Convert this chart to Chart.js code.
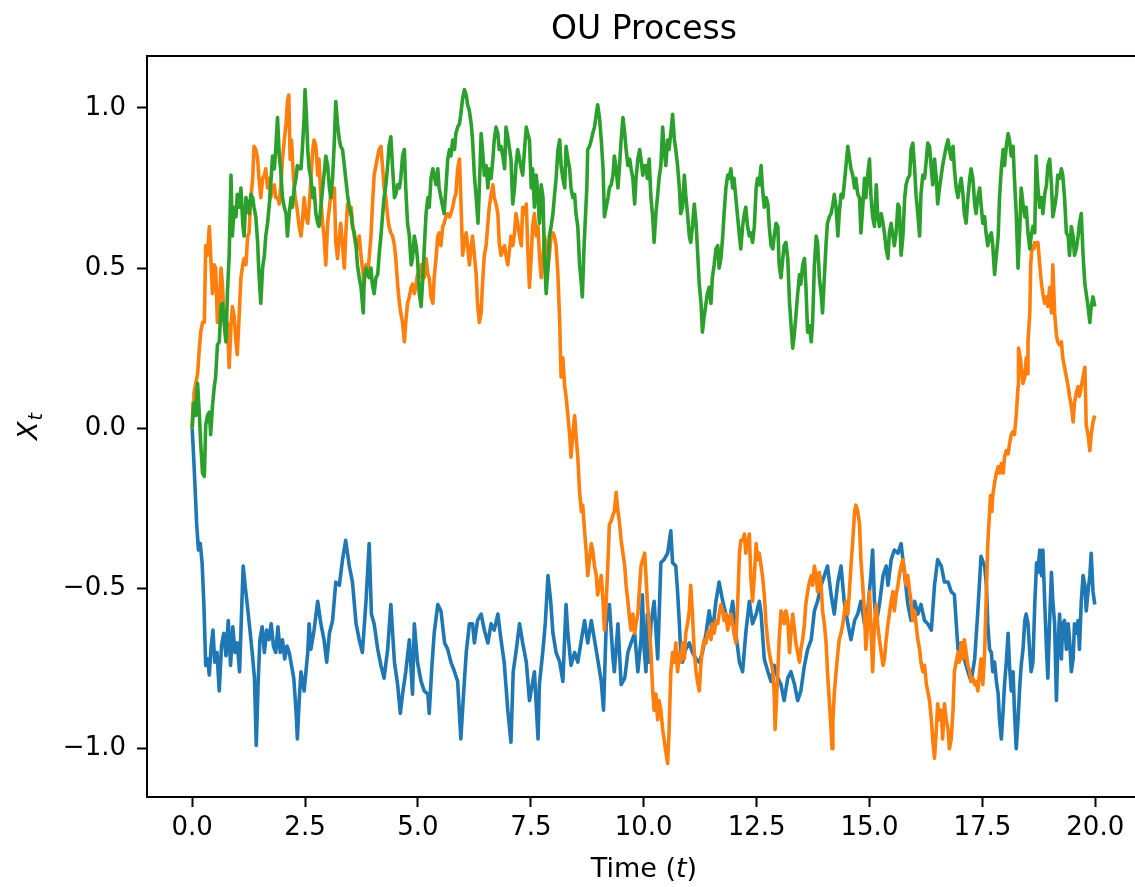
<!DOCTYPE html>
<html>
<head>
<meta charset="utf-8">
<title>OU Process</title>
<script src="https://cdn.jsdelivr.net/npm/chart.js"></script>
<style>
  html, body { margin: 0; padding: 0; overflow: hidden; background: #ffffff; }
  #wrap { width: 1135px; height: 887px; overflow: hidden; }
  canvas { display: block; }
</style>
</head>
<body>
<div id="wrap"><canvas id="chart" width="1135" height="887"></canvas></div>
<script>
// Three sample paths of an Ornstein-Uhlenbeck process: [time, X_t]
const blueSamples = [[0,0],[0.03,-0.08],[0.06,-0.17],[0.1,-0.30],[0.14,-0.38],[0.18,-0.36],[0.22,-0.42],[0.26,-0.55],[0.3,-0.74],[0.34,-0.72],[0.38,-0.77],[0.42,-0.68],[0.46,-0.63],[0.5,-0.73],[0.55,-0.70],[0.6,-0.82],[0.65,-0.68],[0.7,-0.64],[0.75,-0.71],[0.8,-0.60],[0.85,-0.74],[0.9,-0.62],[0.95,-0.70],[1.0,-0.67],[1.05,-0.76],[1.1,-0.55],[1.13,-0.43],[1.18,-0.50],[1.22,-0.55],[1.28,-0.63],[1.33,-0.70],[1.38,-0.78],[1.42,-0.99],[1.46,-0.80],[1.5,-0.66],[1.55,-0.62],[1.6,-0.70],[1.65,-0.63],[1.7,-0.66],[1.75,-0.61],[1.8,-0.68],[1.85,-0.70],[1.9,-0.62],[1.95,-0.70],[2.0,-0.66],[2.05,-0.72],[2.1,-0.68],[2.15,-0.70],[2.2,-0.74],[2.25,-0.78],[2.3,-0.88],[2.33,-0.97],[2.37,-0.85],[2.41,-0.76],[2.48,-0.82],[2.56,-0.70],[2.59,-0.61],[2.63,-0.69],[2.7,-0.63],[2.78,-0.54],[2.85,-0.61],[2.92,-0.66],[2.98,-0.73],[3.04,-0.64],[3.11,-0.60],[3.18,-0.48],[3.26,-0.49],[3.33,-0.41],[3.4,-0.35],[3.48,-0.43],[3.55,-0.48],[3.63,-0.61],[3.7,-0.66],[3.77,-0.70],[3.85,-0.54],[3.92,-0.36],[3.97,-0.58],[4.03,-0.61],[4.11,-0.69],[4.18,-0.74],[4.25,-0.78],[4.33,-0.69],[4.4,-0.55],[4.48,-0.73],[4.55,-0.80],[4.61,-0.89],[4.66,-0.83],[4.73,-0.76],[4.81,-0.66],[4.88,-0.83],[4.92,-0.61],[4.99,-0.73],[5.07,-0.79],[5.14,-0.82],[5.22,-0.83],[5.25,-0.89],[5.31,-0.74],[5.36,-0.64],[5.44,-0.55],[5.51,-0.57],[5.59,-0.67],[5.66,-0.69],[5.73,-0.73],[5.81,-0.76],[5.88,-0.79],[5.95,-0.97],[6.01,-0.83],[6.07,-0.70],[6.14,-0.61],[6.21,-0.61],[6.25,-0.67],[6.32,-0.60],[6.4,-0.58],[6.47,-0.63],[6.55,-0.67],[6.62,-0.61],[6.69,-0.63],[6.77,-0.58],[6.84,-0.66],[6.91,-0.73],[6.99,-0.88],[7.06,-0.98],[7.11,-0.76],[7.17,-0.70],[7.25,-0.61],[7.32,-0.67],[7.4,-0.73],[7.47,-0.85],[7.58,-0.76],[7.66,-0.97],[7.69,-0.80],[7.77,-0.69],[7.82,-0.61],[7.88,-0.46],[7.94,-0.54],[7.99,-0.64],[8.06,-0.70],[8.14,-0.73],[8.21,-0.79],[8.28,-0.55],[8.32,-0.64],[8.39,-0.74],[8.47,-0.70],[8.54,-0.73],[8.62,-0.66],[8.69,-0.60],[8.76,-0.67],[8.84,-0.60],[8.91,-0.66],[8.98,-0.72],[9.06,-0.79],[9.11,-0.88],[9.17,-0.61],[9.24,-0.55],[9.32,-0.72],[9.35,-0.76],[9.43,-0.61],[9.5,-0.80],[9.58,-0.78],[9.65,-0.70],[9.72,-0.67],[9.8,-0.64],[9.87,-0.76],[9.94,-0.66],[9.97,-0.52],[10.01,-0.69],[10.05,-0.76],[10.08,-0.58],[10.12,-0.73],[10.16,-0.61],[10.23,-0.54],[10.31,-0.72],[10.38,-0.42],[10.45,-0.41],[10.53,-0.39],[10.6,-0.32],[10.64,-0.42],[10.71,-0.43],[10.75,-0.51],[10.79,-0.61],[10.82,-0.70],[10.86,-0.73],[10.93,-0.69],[11.01,-0.67],[11.08,-0.70],[11.16,-0.72],[11.23,-0.73],[11.3,-0.70],[11.38,-0.64],[11.45,-0.57],[11.52,-0.64],[11.6,-0.54],[11.67,-0.48],[11.75,-0.54],[11.82,-0.58],[11.89,-0.61],[11.97,-0.54],[12.04,-0.64],[12.12,-0.73],[12.19,-0.76],[12.26,-0.64],[12.34,-0.54],[12.41,-0.61],[12.49,-0.58],[12.56,-0.54],[12.6,-0.58],[12.67,-0.72],[12.75,-0.76],[12.82,-0.79],[12.89,-0.74],[12.97,-0.78],[13.04,-0.80],[13.11,-0.85],[13.19,-0.78],[13.26,-0.76],[13.34,-0.80],[13.41,-0.85],[13.48,-0.82],[13.56,-0.74],[13.63,-0.69],[13.71,-0.66],[13.78,-0.57],[13.85,-0.54],[13.93,-0.49],[14.0,-0.46],[14.07,-0.43],[14.15,-0.52],[14.22,-0.58],[14.3,-0.48],[14.37,-0.43],[14.44,-0.54],[14.52,-0.61],[14.59,-0.66],[14.67,-0.60],[14.74,-0.58],[14.81,-0.54],[14.89,-0.61],[14.96,-0.57],[15.03,-0.46],[15.07,-0.38],[15.11,-0.54],[15.15,-0.61],[15.22,-0.55],[15.3,-0.46],[15.37,-0.43],[15.41,-0.49],[15.48,-0.41],[15.55,-0.38],[15.63,-0.39],[15.7,-0.36],[15.78,-0.46],[15.85,-0.55],[15.92,-0.60],[16.0,-0.54],[16.07,-0.58],[16.14,-0.55],[16.22,-0.60],[16.29,-0.61],[16.37,-0.63],[16.44,-0.49],[16.51,-0.41],[16.59,-0.43],[16.66,-0.48],[16.74,-0.48],[16.81,-0.51],[16.88,-0.52],[16.96,-0.69],[17.03,-0.67],[17.1,-0.72],[17.18,-0.76],[17.25,-0.79],[17.33,-0.72],[17.4,-0.57],[17.47,-0.40],[17.55,-0.43],[17.59,-0.49],[17.62,-0.61],[17.66,-0.69],[17.7,-0.70],[17.73,-0.76],[17.77,-0.73],[17.81,-0.79],[17.85,-0.83],[17.88,-0.91],[17.92,-0.97],[17.96,-0.88],[17.99,-0.80],[18.03,-0.73],[18.07,-0.64],[18.1,-0.74],[18.14,-0.82],[18.18,-0.76],[18.21,-0.88],[18.25,-1.0],[18.29,-0.91],[18.33,-0.80],[18.36,-0.74],[18.4,-0.69],[18.44,-0.60],[18.47,-0.58],[18.51,-0.61],[18.55,-0.70],[18.58,-0.76],[18.62,-0.73],[18.66,-0.55],[18.7,-0.42],[18.73,-0.45],[18.77,-0.38],[18.81,-0.46],[18.84,-0.38],[18.88,-0.54],[18.92,-0.69],[18.95,-0.78],[18.99,-0.60],[19.03,-0.45],[19.06,-0.54],[19.1,-0.61],[19.14,-0.85],[19.17,-0.69],[19.21,-0.58],[19.25,-0.72],[19.28,-0.61],[19.32,-0.60],[19.36,-0.69],[19.4,-0.61],[19.43,-0.66],[19.47,-0.76],[19.51,-0.72],[19.54,-0.61],[19.58,-0.64],[19.62,-0.60],[19.65,-0.69],[19.69,-0.54],[19.73,-0.46],[19.77,-0.49],[19.8,-0.57],[19.84,-0.51],[19.88,-0.46],[19.91,-0.39],[19.95,-0.51],[19.99,-0.55]];

const orangeSamples = [[0,0],[0.02,0.08],[0.04,0.11],[0.08,0.14],[0.12,0.17],[0.16,0.25],[0.19,0.30],[0.23,0.33],[0.27,0.33],[0.30,0.57],[0.34,0.54],[0.38,0.63],[0.41,0.54],[0.45,0.42],[0.49,0.51],[0.52,0.50],[0.56,0.33],[0.60,0.39],[0.64,0.50],[0.67,0.45],[0.71,0.33],[0.75,0.27],[0.78,0.33],[0.82,0.19],[0.86,0.32],[0.89,0.38],[0.93,0.35],[0.97,0.27],[1.00,0.23],[1.04,0.35],[1.08,0.47],[1.12,0.51],[1.15,0.53],[1.19,0.51],[1.23,0.60],[1.26,0.61],[1.30,0.72],[1.34,0.78],[1.37,0.88],[1.41,0.87],[1.45,0.84],[1.48,0.78],[1.52,0.72],[1.56,0.78],[1.60,0.79],[1.63,0.81],[1.67,0.75],[1.71,0.78],[1.74,0.72],[1.78,0.75],[1.82,0.76],[1.85,0.72],[1.89,0.72],[1.93,0.70],[1.96,0.75],[2.00,0.84],[2.04,0.90],[2.08,0.95],[2.11,1.02],[2.14,1.04],[2.17,0.84],[2.20,0.90],[2.24,0.79],[2.28,0.72],[2.32,0.69],[2.37,0.63],[2.41,0.60],[2.44,0.64],[2.48,0.72],[2.52,0.66],[2.56,0.64],[2.59,0.69],[2.63,0.78],[2.67,0.87],[2.70,0.90],[2.74,0.88],[2.78,0.79],[2.81,0.84],[2.85,0.72],[2.89,0.64],[2.92,0.60],[2.96,0.51],[3.00,0.64],[3.04,0.69],[3.07,0.73],[3.11,0.72],[3.15,0.75],[3.18,0.58],[3.22,0.53],[3.26,0.60],[3.29,0.64],[3.33,0.57],[3.37,0.50],[3.40,0.60],[3.44,0.70],[3.48,0.67],[3.52,0.69],[3.55,0.64],[3.59,0.60],[3.63,0.57],[3.66,0.56],[3.70,0.60],[3.74,0.54],[3.77,0.50],[3.81,0.45],[3.85,0.51],[3.88,0.48],[3.92,0.53],[3.96,0.60],[3.99,0.69],[4.03,0.79],[4.07,0.82],[4.11,0.85],[4.14,0.87],[4.18,0.88],[4.22,0.81],[4.25,0.75],[4.29,0.72],[4.33,0.66],[4.36,0.63],[4.40,0.61],[4.44,0.60],[4.48,0.57],[4.51,0.53],[4.55,0.45],[4.59,0.39],[4.62,0.36],[4.66,0.33],[4.70,0.27],[4.73,0.33],[4.77,0.39],[4.81,0.41],[4.85,0.44],[4.88,0.45],[4.92,0.42],[4.96,0.45],[4.99,0.48],[5.03,0.47],[5.07,0.51],[5.10,0.50],[5.14,0.47],[5.18,0.53],[5.22,0.48],[5.25,0.47],[5.29,0.41],[5.33,0.39],[5.36,0.47],[5.40,0.53],[5.44,0.60],[5.47,0.61],[5.51,0.57],[5.55,0.63],[5.58,0.64],[5.62,0.66],[5.66,0.67],[5.70,0.66],[5.73,0.67],[5.77,0.69],[5.81,0.72],[5.84,0.73],[5.88,0.81],[5.92,0.84],[5.95,0.72],[5.99,0.54],[6.03,0.58],[6.07,0.61],[6.10,0.57],[6.14,0.51],[6.18,0.57],[6.21,0.60],[6.25,0.54],[6.29,0.48],[6.32,0.39],[6.36,0.33],[6.40,0.36],[6.43,0.45],[6.47,0.54],[6.51,0.57],[6.55,0.64],[6.58,0.69],[6.62,0.73],[6.66,0.76],[6.69,0.72],[6.73,0.70],[6.77,0.67],[6.80,0.58],[6.84,0.54],[6.88,0.56],[6.92,0.57],[6.95,0.54],[6.99,0.51],[7.03,0.56],[7.06,0.60],[7.10,0.57],[7.14,0.61],[7.17,0.67],[7.21,0.64],[7.25,0.60],[7.29,0.57],[7.32,0.69],[7.36,0.67],[7.40,0.70],[7.43,0.57],[7.47,0.44],[7.51,0.54],[7.54,0.63],[7.58,0.67],[7.62,0.60],[7.66,0.63],[7.69,0.54],[7.73,0.47],[7.77,0.54],[7.80,0.60],[7.84,0.57],[7.88,0.50],[7.91,0.54],[7.95,0.60],[7.99,0.61],[8.02,0.60],[8.06,0.57],[8.10,0.48],[8.14,0.33],[8.17,0.16],[8.21,0.22],[8.25,0.13],[8.28,0.10],[8.32,0.04],[8.36,-0.02],[8.39,-0.09],[8.43,-0.02],[8.47,0.04],[8.50,-0.02],[8.54,-0.09],[8.58,-0.20],[8.62,-0.26],[8.65,-0.24],[8.69,-0.32],[8.73,-0.39],[8.76,-0.46],[8.80,-0.41],[8.84,-0.36],[8.87,-0.38],[8.91,-0.43],[8.95,-0.46],[8.98,-0.52],[9.02,-0.49],[9.06,-0.46],[9.10,-0.54],[9.13,-0.63],[9.17,-0.54],[9.21,-0.41],[9.24,-0.30],[9.28,-0.29],[9.32,-0.27],[9.35,-0.26],[9.39,-0.20],[9.43,-0.26],[9.46,-0.29],[9.50,-0.35],[9.54,-0.39],[9.58,-0.43],[9.61,-0.49],[9.65,-0.54],[9.69,-0.60],[9.72,-0.63],[9.76,-0.58],[9.80,-0.64],[9.83,-0.61],[9.87,-0.58],[9.91,-0.49],[9.94,-0.43],[9.98,-0.41],[10.02,-0.39],[10.05,-0.46],[10.08,-0.54],[10.12,-0.61],[10.16,-0.70],[10.20,-0.82],[10.23,-0.88],[10.27,-0.83],[10.31,-0.91],[10.34,-0.85],[10.38,-0.88],[10.42,-0.94],[10.45,-0.97],[10.49,-1.01],[10.53,-1.046],[10.56,-0.95],[10.60,-0.76],[10.64,-0.70],[10.68,-0.73],[10.71,-0.67],[10.75,-0.76],[10.79,-0.70],[10.82,-0.73],[10.86,-0.67],[10.90,-0.72],[10.93,-0.64],[10.97,-0.61],[11.01,-0.57],[11.04,-0.49],[11.08,-0.58],[11.12,-0.70],[11.16,-0.76],[11.19,-0.79],[11.23,-0.82],[11.27,-0.73],[11.30,-0.69],[11.34,-0.66],[11.38,-0.67],[11.41,-0.64],[11.45,-0.63],[11.49,-0.66],[11.52,-0.61],[11.56,-0.64],[11.60,-0.60],[11.64,-0.61],[11.67,-0.58],[11.71,-0.55],[11.75,-0.57],[11.78,-0.60],[11.82,-0.58],[11.86,-0.63],[11.89,-0.61],[11.93,-0.58],[11.97,-0.61],[12.00,-0.64],[12.04,-0.67],[12.08,-0.55],[12.12,-0.39],[12.15,-0.35],[12.19,-0.35],[12.23,-0.33],[12.26,-0.39],[12.30,-0.36],[12.34,-0.33],[12.37,-0.46],[12.41,-0.54],[12.45,-0.46],[12.49,-0.36],[12.52,-0.41],[12.56,-0.39],[12.60,-0.43],[12.63,-0.46],[12.67,-0.52],[12.71,-0.61],[12.75,-0.67],[12.78,-0.70],[12.82,-0.73],[12.86,-0.76],[12.89,-0.83],[12.91,-0.94],[12.93,-0.88],[12.97,-0.76],[13.00,-0.66],[13.04,-0.57],[13.08,-0.58],[13.11,-0.61],[13.15,-0.57],[13.19,-0.60],[13.23,-0.70],[13.26,-0.64],[13.30,-0.58],[13.34,-0.63],[13.37,-0.67],[13.41,-0.70],[13.45,-0.73],[13.48,-0.69],[13.52,-0.66],[13.56,-0.61],[13.59,-0.55],[13.63,-0.51],[13.67,-0.48],[13.71,-0.46],[13.74,-0.49],[13.78,-0.43],[13.82,-0.46],[13.85,-0.51],[13.89,-0.45],[13.93,-0.49],[13.96,-0.57],[14.00,-0.61],[14.04,-0.67],[14.07,-0.76],[14.11,-0.85],[14.15,-0.94],[14.17,-1.00],[14.19,-0.91],[14.22,-0.83],[14.26,-0.76],[14.30,-0.70],[14.33,-0.66],[14.37,-0.64],[14.41,-0.61],[14.44,-0.58],[14.48,-0.54],[14.52,-0.58],[14.55,-0.52],[14.59,-0.43],[14.63,-0.35],[14.67,-0.26],[14.70,-0.24],[14.74,-0.26],[14.78,-0.30],[14.81,-0.41],[14.85,-0.49],[14.89,-0.58],[14.92,-0.69],[14.96,-0.61],[15.00,-0.51],[15.04,-0.65],[15.07,-0.76],[15.11,-0.61],[15.15,-0.55],[15.18,-0.61],[15.22,-0.66],[15.26,-0.70],[15.30,-0.74],[15.33,-0.72],[15.37,-0.66],[15.41,-0.61],[15.44,-0.58],[15.48,-0.54],[15.52,-0.51],[15.55,-0.57],[15.59,-0.52],[15.63,-0.49],[15.66,-0.46],[15.70,-0.43],[15.74,-0.41],[15.78,-0.45],[15.81,-0.49],[15.85,-0.46],[15.89,-0.51],[15.92,-0.54],[15.96,-0.60],[16.00,-0.57],[16.03,-0.61],[16.07,-0.66],[16.11,-0.69],[16.14,-0.73],[16.18,-0.76],[16.22,-0.74],[16.26,-0.80],[16.29,-0.82],[16.33,-0.85],[16.37,-0.91],[16.40,-0.97],[16.44,-1.03],[16.48,-0.94],[16.51,-0.86],[16.55,-0.91],[16.59,-0.88],[16.62,-0.97],[16.66,-0.86],[16.70,-0.91],[16.74,-0.94],[16.77,-1.00],[16.81,-0.97],[16.85,-0.88],[16.88,-0.76],[16.92,-0.73],[16.96,-0.70],[16.99,-0.73],[17.03,-0.67],[17.07,-0.72],[17.10,-0.66],[17.14,-0.70],[17.18,-0.74],[17.22,-0.76],[17.25,-0.79],[17.29,-0.78],[17.33,-0.80],[17.36,-0.79],[17.40,-0.82],[17.44,-0.76],[17.47,-0.72],[17.51,-0.80],[17.55,-0.70],[17.59,-0.50],[17.62,-0.36],[17.66,-0.26],[17.68,-0.21],[17.71,-0.26],[17.73,-0.21],[17.77,-0.17],[17.81,-0.14],[17.85,-0.12],[17.88,-0.14],[17.92,-0.11],[17.96,-0.14],[17.99,-0.09],[18.03,-0.07],[18.07,-0.08],[18.10,-0.05],[18.14,-0.02],[18.18,-0.01],[18.21,-0.02],[18.25,0.04],[18.29,0.13],[18.30,0.25],[18.34,0.22],[18.36,0.19],[18.40,0.14],[18.44,0.16],[18.47,0.22],[18.50,0.17],[18.51,0.27],[18.55,0.36],[18.57,0.51],[18.60,0.57],[18.64,0.56],[18.66,0.58],[18.69,0.57],[18.73,0.58],[18.77,0.51],[18.81,0.45],[18.84,0.42],[18.88,0.39],[18.92,0.41],[18.95,0.38],[18.99,0.44],[19.03,0.36],[19.06,0.51],[19.10,0.36],[19.14,0.29],[19.17,0.27],[19.21,0.26],[19.25,0.27],[19.28,0.22],[19.32,0.19],[19.36,0.16],[19.40,0.13],[19.43,0.10],[19.47,0.07],[19.51,0.02],[19.54,0.08],[19.58,0.11],[19.62,0.13],[19.65,0.10],[19.69,0.13],[19.73,0.16],[19.77,0.19],[19.80,0.01],[19.84,-0.02],[19.88,-0.07],[19.91,-0.02],[19.95,0.02],[19.99,0.04]];

const greenSamples = [[0,0],[0.03,0.07],[0.05,0.08],[0.08,0.04],[0.10,0.10],[0.12,0.14],[0.16,0.04],[0.19,-0.05],[0.23,-0.14],[0.27,-0.15],[0.30,0.01],[0.34,0.04],[0.38,0.05],[0.41,-0.02],[0.45,0.07],[0.49,0.13],[0.52,0.16],[0.56,0.26],[0.60,0.27],[0.64,0.38],[0.67,0.39],[0.71,0.33],[0.75,0.27],[0.78,0.42],[0.82,0.54],[0.86,0.79],[0.89,0.60],[0.93,0.69],[0.97,0.66],[1.00,0.73],[1.04,0.69],[1.08,0.75],[1.12,0.64],[1.15,0.60],[1.19,0.72],[1.23,0.70],[1.26,0.67],[1.30,0.73],[1.34,0.72],[1.37,0.69],[1.41,0.66],[1.45,0.58],[1.48,0.48],[1.52,0.39],[1.56,0.50],[1.60,0.54],[1.63,0.60],[1.67,0.64],[1.71,0.70],[1.74,0.76],[1.78,0.85],[1.82,0.81],[1.85,0.87],[1.89,0.97],[1.93,0.85],[1.96,0.81],[2.00,0.72],[2.04,0.69],[2.08,0.67],[2.11,0.60],[2.15,0.67],[2.19,0.72],[2.22,0.69],[2.26,0.75],[2.30,0.78],[2.33,0.82],[2.37,0.81],[2.41,0.81],[2.44,0.87],[2.48,0.97],[2.50,1.057],[2.53,0.98],[2.56,0.87],[2.59,0.81],[2.63,0.78],[2.67,0.72],[2.70,0.75],[2.74,0.67],[2.78,0.64],[2.81,0.63],[2.85,0.69],[2.89,0.75],[2.92,0.79],[2.96,0.85],[3.00,0.82],[3.04,0.75],[3.07,0.72],[3.11,0.78],[3.15,0.90],[3.18,1.02],[3.22,0.95],[3.26,0.90],[3.29,0.88],[3.33,0.87],[3.37,0.82],[3.40,0.78],[3.44,0.73],[3.48,0.69],[3.52,0.67],[3.55,0.63],[3.59,0.61],[3.63,0.57],[3.66,0.51],[3.70,0.47],[3.74,0.44],[3.77,0.39],[3.79,0.36],[3.81,0.47],[3.85,0.50],[3.88,0.48],[3.92,0.47],[3.96,0.50],[3.99,0.45],[4.03,0.42],[4.07,0.47],[4.11,0.48],[4.14,0.54],[4.18,0.60],[4.22,0.67],[4.25,0.72],[4.29,0.76],[4.33,0.82],[4.36,0.88],[4.40,0.91],[4.44,0.81],[4.48,0.72],[4.51,0.73],[4.55,0.76],[4.59,0.75],[4.62,0.78],[4.66,0.85],[4.70,0.87],[4.73,0.75],[4.77,0.64],[4.81,0.60],[4.85,0.51],[4.88,0.53],[4.92,0.60],[4.96,0.57],[4.99,0.53],[5.03,0.42],[5.07,0.38],[5.10,0.45],[5.14,0.56],[5.18,0.67],[5.22,0.72],[5.25,0.69],[5.29,0.78],[5.33,0.81],[5.36,0.79],[5.40,0.76],[5.44,0.81],[5.47,0.75],[5.51,0.72],[5.55,0.69],[5.58,0.67],[5.62,0.75],[5.66,0.84],[5.70,0.87],[5.73,0.85],[5.77,0.90],[5.81,0.87],[5.84,0.92],[5.88,0.94],[5.92,0.95],[5.95,0.98],[5.99,1.03],[6.03,1.057],[6.07,1.04],[6.10,1.01],[6.14,0.99],[6.18,0.95],[6.21,0.90],[6.25,0.79],[6.29,0.72],[6.33,0.64],[6.36,0.75],[6.40,0.92],[6.43,0.87],[6.47,0.79],[6.51,0.82],[6.55,0.75],[6.58,0.81],[6.62,0.78],[6.66,0.84],[6.69,0.90],[6.73,0.94],[6.77,0.92],[6.80,0.87],[6.84,0.88],[6.88,0.85],[6.92,0.81],[6.95,0.94],[6.99,0.91],[7.03,0.87],[7.06,0.84],[7.10,0.70],[7.14,0.75],[7.17,0.82],[7.21,0.87],[7.25,0.84],[7.29,0.81],[7.32,0.79],[7.36,0.87],[7.40,0.94],[7.43,0.92],[7.47,0.90],[7.51,0.75],[7.54,0.81],[7.58,0.69],[7.62,0.79],[7.66,0.72],[7.69,0.64],[7.73,0.76],[7.77,0.72],[7.80,0.54],[7.84,0.42],[7.88,0.50],[7.91,0.60],[7.95,0.63],[7.99,0.67],[8.02,0.72],[8.06,0.78],[8.10,0.87],[8.14,0.90],[8.17,0.82],[8.21,0.78],[8.25,0.75],[8.28,0.88],[8.32,0.84],[8.36,0.81],[8.39,0.75],[8.43,0.72],[8.47,0.73],[8.50,0.67],[8.54,0.63],[8.58,0.51],[8.62,0.45],[8.64,0.41],[8.68,0.57],[8.71,0.66],[8.74,0.75],[8.76,0.87],[8.80,0.88],[8.84,0.90],[8.87,0.92],[8.91,0.94],[8.95,0.98],[8.98,1.01],[9.02,0.97],[9.06,0.90],[9.10,0.81],[9.13,0.66],[9.17,0.69],[9.21,0.72],[9.24,0.75],[9.28,0.76],[9.32,0.79],[9.35,0.85],[9.39,0.81],[9.43,0.75],[9.46,0.81],[9.50,0.90],[9.54,0.97],[9.58,0.92],[9.61,0.87],[9.65,0.82],[9.69,0.84],[9.72,0.81],[9.76,0.78],[9.80,0.70],[9.83,0.78],[9.87,0.84],[9.91,0.87],[9.94,0.84],[9.98,0.79],[10.02,0.82],[10.05,0.82],[10.08,0.78],[10.12,0.84],[10.16,0.72],[10.20,0.66],[10.23,0.58],[10.27,0.67],[10.31,0.73],[10.34,0.78],[10.38,0.82],[10.42,0.94],[10.45,0.87],[10.49,0.82],[10.53,0.90],[10.56,0.87],[10.60,0.92],[10.64,0.98],[10.68,0.90],[10.71,0.87],[10.75,0.82],[10.79,0.75],[10.82,0.67],[10.86,0.69],[10.90,0.79],[10.93,0.73],[10.97,0.67],[11.01,0.60],[11.04,0.58],[11.08,0.63],[11.12,0.70],[11.16,0.64],[11.19,0.56],[11.23,0.45],[11.27,0.39],[11.30,0.30],[11.34,0.35],[11.38,0.39],[11.41,0.42],[11.45,0.44],[11.49,0.39],[11.52,0.47],[11.56,0.51],[11.60,0.56],[11.64,0.57],[11.67,0.50],[11.71,0.53],[11.75,0.60],[11.78,0.67],[11.82,0.75],[11.86,0.79],[11.89,0.78],[11.93,0.81],[11.97,0.75],[12.00,0.78],[12.04,0.72],[12.08,0.66],[12.12,0.60],[12.15,0.56],[12.19,0.63],[12.23,0.67],[12.26,0.69],[12.30,0.63],[12.34,0.60],[12.37,0.61],[12.41,0.58],[12.45,0.63],[12.49,0.75],[12.52,0.78],[12.56,0.76],[12.60,0.82],[12.63,0.75],[12.67,0.69],[12.71,0.72],[12.75,0.70],[12.78,0.63],[12.82,0.57],[12.86,0.56],[12.89,0.60],[12.93,0.64],[12.97,0.63],[13.00,0.51],[13.04,0.47],[13.08,0.53],[13.11,0.57],[13.15,0.58],[13.19,0.53],[13.23,0.39],[13.26,0.33],[13.30,0.25],[13.34,0.30],[13.37,0.35],[13.41,0.42],[13.45,0.48],[13.48,0.45],[13.52,0.51],[13.56,0.53],[13.59,0.45],[13.63,0.30],[13.67,0.32],[13.71,0.27],[13.74,0.33],[13.78,0.51],[13.82,0.60],[13.85,0.58],[13.89,0.47],[13.93,0.42],[13.96,0.36],[14.00,0.47],[14.04,0.58],[14.07,0.64],[14.11,0.66],[14.15,0.67],[14.19,0.70],[14.22,0.73],[14.26,0.69],[14.30,0.60],[14.33,0.67],[14.37,0.73],[14.41,0.72],[14.44,0.76],[14.48,0.82],[14.52,0.88],[14.55,0.85],[14.59,0.81],[14.63,0.79],[14.67,0.75],[14.70,0.78],[14.74,0.73],[14.78,0.72],[14.81,0.61],[14.85,0.69],[14.89,0.78],[14.92,0.72],[14.96,0.79],[15.00,0.84],[15.03,0.73],[15.07,0.66],[15.11,0.63],[15.15,0.76],[15.18,0.67],[15.22,0.63],[15.26,0.67],[15.30,0.64],[15.33,0.61],[15.37,0.56],[15.41,0.53],[15.44,0.61],[15.48,0.64],[15.52,0.60],[15.55,0.57],[15.59,0.61],[15.63,0.70],[15.66,0.69],[15.70,0.54],[15.74,0.60],[15.78,0.72],[15.81,0.76],[15.85,0.78],[15.89,0.79],[15.92,0.87],[15.96,0.89],[16.00,0.81],[16.03,0.73],[16.07,0.67],[16.11,0.60],[16.14,0.73],[16.18,0.79],[16.22,0.78],[16.26,0.84],[16.29,0.89],[16.33,0.88],[16.37,0.81],[16.40,0.76],[16.44,0.84],[16.48,0.78],[16.51,0.70],[16.55,0.75],[16.59,0.79],[16.62,0.82],[16.66,0.85],[16.70,0.88],[16.74,0.90],[16.77,0.87],[16.81,0.84],[16.85,0.88],[16.88,0.81],[16.92,0.75],[16.96,0.72],[16.99,0.75],[17.03,0.78],[17.07,0.73],[17.10,0.67],[17.14,0.64],[17.18,0.72],[17.22,0.78],[17.25,0.81],[17.29,0.78],[17.33,0.70],[17.36,0.67],[17.40,0.72],[17.44,0.75],[17.47,0.70],[17.51,0.64],[17.55,0.66],[17.58,0.61],[17.62,0.57],[17.66,0.60],[17.70,0.61],[17.73,0.57],[17.77,0.48],[17.81,0.54],[17.85,0.60],[17.88,0.72],[17.92,0.81],[17.96,0.87],[17.99,0.82],[18.03,0.88],[18.07,0.92],[18.10,0.90],[18.14,0.85],[18.18,0.88],[18.21,0.78],[18.25,0.67],[18.29,0.50],[18.33,0.63],[18.36,0.75],[18.40,0.70],[18.44,0.66],[18.47,0.69],[18.51,0.61],[18.55,0.56],[18.58,0.60],[18.62,0.63],[18.66,0.61],[18.69,0.85],[18.73,0.75],[18.77,0.69],[18.81,0.72],[18.84,0.67],[18.88,0.73],[18.92,0.76],[18.95,0.82],[18.99,0.84],[19.03,0.76],[19.06,0.66],[19.10,0.69],[19.14,0.73],[19.17,0.79],[19.21,0.78],[19.25,0.81],[19.28,0.79],[19.32,0.72],[19.36,0.61],[19.40,0.60],[19.43,0.54],[19.47,0.63],[19.51,0.60],[19.54,0.54],[19.58,0.56],[19.62,0.60],[19.65,0.64],[19.69,0.67],[19.73,0.54],[19.77,0.45],[19.80,0.42],[19.84,0.38],[19.88,0.33],[19.91,0.38],[19.95,0.41],[19.99,0.38]];

// Tick positions on each axis
const timeTicks = [0, 2.5, 5, 7.5, 10, 12.5, 15, 17.5, 20];
const valueTicks = [-1, -0.5, 0, 0.5, 1];

const FONT = "'DejaVu Sans', sans-serif";
const toPoints = s => s.map(p => ({ x: p[0], y: p[1] }));
const fmt = v => v.toFixed(1).replace('-', '\u2212');

// Left, top and bottom spines, plus title and axis labels.
// The plotting area runs to the canvas edge, so there is no right spine.
const decorations = {
  id: 'decorations',
  afterDraw(chart) {
    const { ctx, chartArea: a } = chart;
    const W = chart.width;
    ctx.save();
    // keep the strip along the right edge of the plotting area clean
    ctx.fillStyle = '#ffffff';
    ctx.fillRect(W - 10, a.top + 1.5, 10, a.bottom - a.top - 3);

    ctx.strokeStyle = '#000';
    ctx.lineWidth = 2;
    ctx.lineCap = 'butt';
    ctx.beginPath();
    ctx.moveTo(W, a.top);
    ctx.lineTo(a.left, a.top);
    ctx.lineTo(a.left, a.bottom);
    ctx.lineTo(W, a.bottom);
    ctx.stroke();

    const cx = (a.left + 1141) / 2;
    ctx.fillStyle = '#000';
    ctx.textBaseline = 'alphabetic';

    // title
    ctx.font = `33px ${FONT}`;
    ctx.textAlign = 'center';
    ctx.fillText('OU Process', cx, 39);

    // x label: Time (t) with italic t
    const partA = 'Time (', partB = 't', partC = ')';
    ctx.font = `27px ${FONT}`;
    const wA = ctx.measureText(partA).width, wC = ctx.measureText(partC).width;
    ctx.font = `italic 27px ${FONT}`;
    const wB = ctx.measureText(partB).width;
    const x0 = cx - (wA + wB + wC) / 2;
    const by = 877;
    ctx.textAlign = 'left';
    ctx.font = `27px ${FONT}`;
    ctx.fillText(partA, x0, by);
    ctx.font = `italic 27px ${FONT}`;
    ctx.fillText(partB, x0 + wA, by);
    ctx.font = `27px ${FONT}`;
    ctx.fillText(partC, x0 + wA + wB, by);

    // y label: X with subscript t, rotated
    const cy = (a.top + a.bottom) / 2;
    ctx.translate(37, cy);
    ctx.rotate(-Math.PI / 2);
    ctx.font = `italic 27px ${FONT}`;
    const wX = ctx.measureText('X').width;
    ctx.font = `italic 19px ${FONT}`;
    const wt = ctx.measureText('t').width;
    const sx = -(wX + wt + 1) / 2;
    ctx.font = `italic 27px ${FONT}`;
    ctx.fillText('X', sx, 0);
    ctx.font = `italic 19px ${FONT}`;
    ctx.fillText('t', sx + wX + 1, 5);
    ctx.restore();
  }
};

const axisCommon = {
  type: 'linear',
  grid: { drawOnChartArea: false, drawTicks: true, tickLength: 10, tickWidth: 2, tickColor: '#000' },
  border: { display: false },
  ticks: { color: '#000', font: { family: FONT, size: 26 }, callback: v => fmt(v), autoSkip: false, maxRotation: 0 }
};

new Chart(document.getElementById('chart'), {
  type: 'line',
  data: {
    datasets: [
      { label: 'path 3', data: toPoints(greenSamples), borderColor: '#2ca02c', order: 0 },
      { label: 'path 2', data: toPoints(orangeSamples), borderColor: '#ff7f0e', order: 1 },
      { label: 'path 1', data: toPoints(blueSamples), borderColor: '#1f77b4', order: 2 }
    ].map(d => Object.assign(d, { borderWidth: 3.6, pointRadius: 0, tension: 0, fill: false, borderJoinStyle: 'round' }))
  },
  options: {
    responsive: false,
    animation: false,
    devicePixelRatio: 1,
    layout: { padding: { top: 56, right: 0, left: 0, bottom: 0 } },
    plugins: { legend: { display: false }, tooltip: { enabled: false }, title: { display: false } },
    scales: {
      x: Object.assign({}, axisCommon, {
        min: -1, max: 20.88,
        ticks: Object.assign({}, axisCommon.ticks, { padding: 6 }),
        afterBuildTicks: ax => { ax.ticks = timeTicks.map(v => ({ value: v })); },
        afterFit: ax => { ax.height = 90; ax.paddingLeft = 0; ax.paddingRight = 0; }
      }),
      y: Object.assign({}, axisCommon, {
        min: -1.151, max: 1.162,
        ticks: Object.assign({}, axisCommon.ticks, { padding: 11 }),
        afterBuildTicks: ax => { ax.ticks = valueTicks.map(v => ({ value: v })); },
        afterFit: ax => { ax.width = 147; ax.paddingTop = 0; ax.paddingBottom = 0; }
      })
    }
  },
  plugins: [decorations]
});
</script>
</body>
</html>
